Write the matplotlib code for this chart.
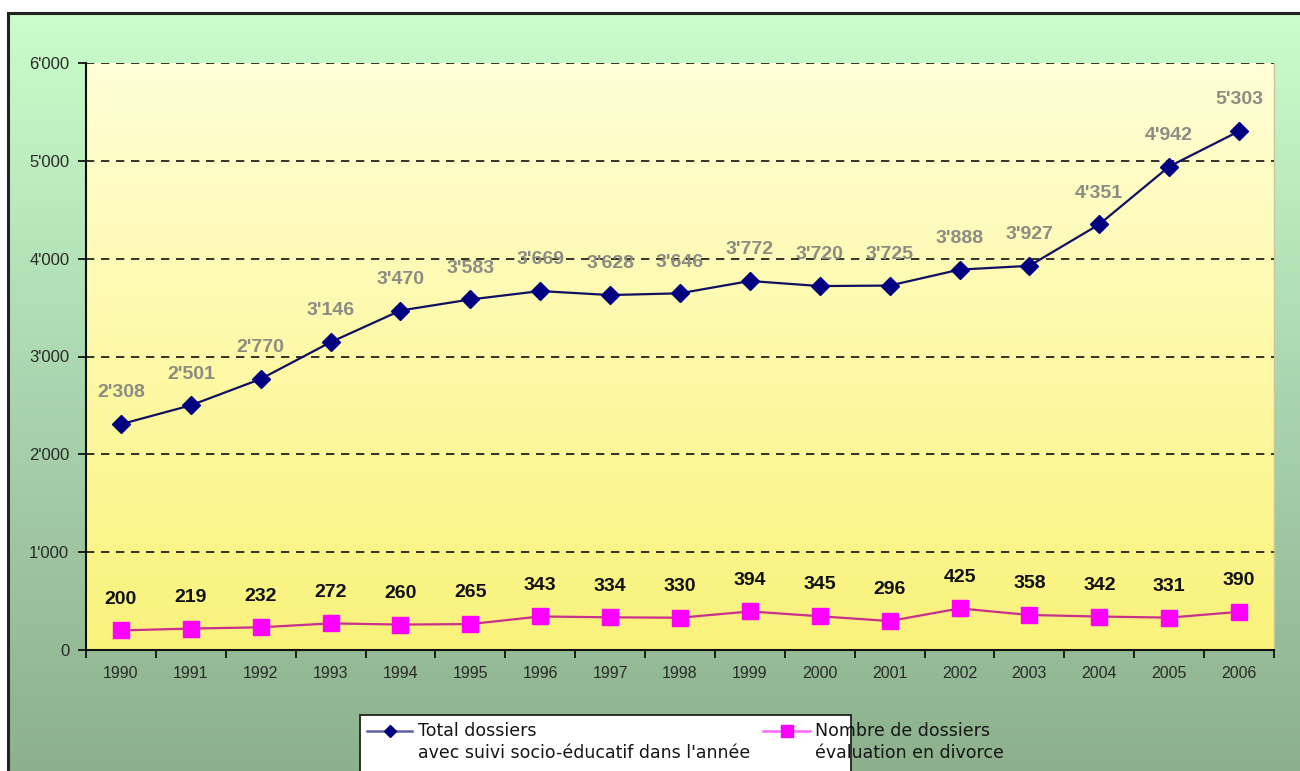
import numpy as np
import matplotlib
matplotlib.use("Agg")
import matplotlib.pyplot as plt
from matplotlib.colors import LinearSegmentedColormap
from matplotlib.lines import Line2D
from matplotlib.patches import Rectangle

years = ["1990", "1991", "1992", "1993", "1994", "1995", "1996", "1997", "1998",
         "1999", "2000", "2001", "2002", "2003", "2004", "2005", "2006"]
total_dossiers = [2308, 2501, 2770, 3146, 3470, 3583, 3669, 3628, 3646,
                  3772, 3720, 3725, 3888, 3927, 4351, 4942, 5303]
divorce_dossiers = [200, 219, 232, 272, 260, 265, 343, 334, 330,
                    394, 345, 296, 425, 358, 342, 331, 390]
y_ticks = [0, 1000, 2000, 3000, 4000, 5000, 6000]
label_total = ["Total dossiers", "avec suivi socio-éducatif dans l'année"]
label_divorce = ["Nombre de dossiers", "évaluation en divorce"]

plt.rcParams['font.family'] = ['Liberation Sans', 'DejaVu Sans']

W, H = 1300, 771
fig = plt.figure(figsize=(W / 100, H / 100), dpi=100)
fig.patch.set_facecolor("white")

# outer background gradient (pixel coordinates)
bg = fig.add_axes([0, 0, 1, 1], zorder=-10)
bg.set_xlim(0, W)
bg.set_ylim(H, 0)
bg.axis("off")
outer_cmap = LinearSegmentedColormap.from_list("outer", ["#cafdcb", "#a9d5ae", "#8cb08c"])
grad = np.linspace(0, 1, 256).reshape(-1, 1)
bg.imshow(grad, cmap=outer_cmap, extent=[8, W + 5, H + 5, 13], aspect="auto", zorder=0)
bg.plot([8, 8], [13, H + 5], color="#222222", lw=2.2, zorder=2)
bg.plot([8, W + 5], [13, 13], color="#222222", lw=2.2, zorder=2)

# legend (drawn in pixel coordinates)
bg.add_patch(Rectangle((360, 715), 491, 70, facecolor="white", edgecolor="#222222", lw=1.3, zorder=3))
leg_font = dict(family="DejaVu Sans", fontsize=12.5, color="#151515", va="center", ha="left", zorder=5)
bg.add_line(Line2D([367, 412], [731, 731], color="#6060a0", lw=1.8, zorder=4))
bg.add_line(Line2D([389.5], [731], marker="D", markersize=6, color="#000080", zorder=5))
bg.text(418, 731, label_total[0], **leg_font)
bg.text(418, 753, label_total[1], **leg_font)
bg.add_line(Line2D([763, 810], [731, 731], color="#ff66ff", lw=1.8, zorder=4))
bg.add_line(Line2D([786.5], [731], marker="s", markersize=9, color="#ff00ff", zorder=5))
bg.text(815, 731, label_divorce[0], **leg_font)
bg.text(815, 753, label_divorce[1], **leg_font)

# main axes
x0, x1, yt, yb = 86, 1274, 63, 650
ax = fig.add_axes([x0 / W, 1 - yb / H, (x1 - x0) / W, (yb - yt) / H])
ax.set_facecolor("none")
inner_cmap = LinearSegmentedColormap.from_list("inner", ["#fffed6", "#fdf9a8", "#f9f27a"])
ax.imshow(grad, cmap=inner_cmap, extent=[-0.5, 16.5, 0, 6000], aspect="auto", zorder=0)

xs = np.arange(len(years))
ax.plot(xs, total_dossiers, color="#101060", lw=1.6, marker="D", markersize=9,
        markerfacecolor="#000080", markeredgecolor="#000080", zorder=5)
ax.plot(xs, divorce_dossiers, color="#c8308c", lw=1.6, marker="s", markersize=11,
        markerfacecolor="#ff00ff", markeredgecolor="#ff00ff", zorder=5)

for x, v in zip(xs, total_dossiers):
    ax.annotate(f"{v // 1000}'{v % 1000:03d}", (x, v), xytext=(0, 22.5), textcoords="offset points",
                ha="center", va="center", fontsize=14, fontweight="bold", color="#8c8c82", zorder=6)
for x, v in zip(xs, divorce_dossiers):
    ax.annotate(f"{v}", (x, v), xytext=(0, 22.5), textcoords="offset points",
                ha="center", va="center", fontsize=14, fontweight="bold", color="#111111", zorder=6)

ax.set_xlim(-0.5, 16.5)
ax.set_ylim(0, 6000)
ax.set_yticks(y_ticks)
ax.set_yticklabels([f"{t // 1000}'{t % 1000:03d}" if t else "0" for t in y_ticks])
ax.set_xticks(xs)
ax.set_xticklabels(years)
ax.set_xticks(np.arange(-0.5, 17, 1), minor=True)
ax.tick_params(axis="x", which="major", length=0, pad=11.5, labelsize=11.5, labelcolor="#2a2a2a")
ax.tick_params(axis="x", which="minor", length=6, width=1.3, direction="out", color="#111111")
ax.tick_params(axis="y", length=6, width=1.3, direction="out", pad=6, labelsize=12, labelcolor="#2a2a2a",
               color="#111111")
ax.grid(axis="y", color="#111111", linestyle=(0, (5, 4)), lw=1.2, zorder=1)
ax.set_axisbelow(False)
ax.spines["top"].set_visible(False)
ax.spines["right"].set_color("#c8c8a0")
ax.spines["right"].set_linewidth(1)
ax.spines["left"].set_color("#111111")
ax.spines["bottom"].set_color("#111111")
ax.spines["left"].set_linewidth(1.5)
ax.spines["bottom"].set_linewidth(1.5)
for gl in ax.get_ygridlines():
    gl.set_zorder(2)

fig.savefig("out.png", dpi=100)
